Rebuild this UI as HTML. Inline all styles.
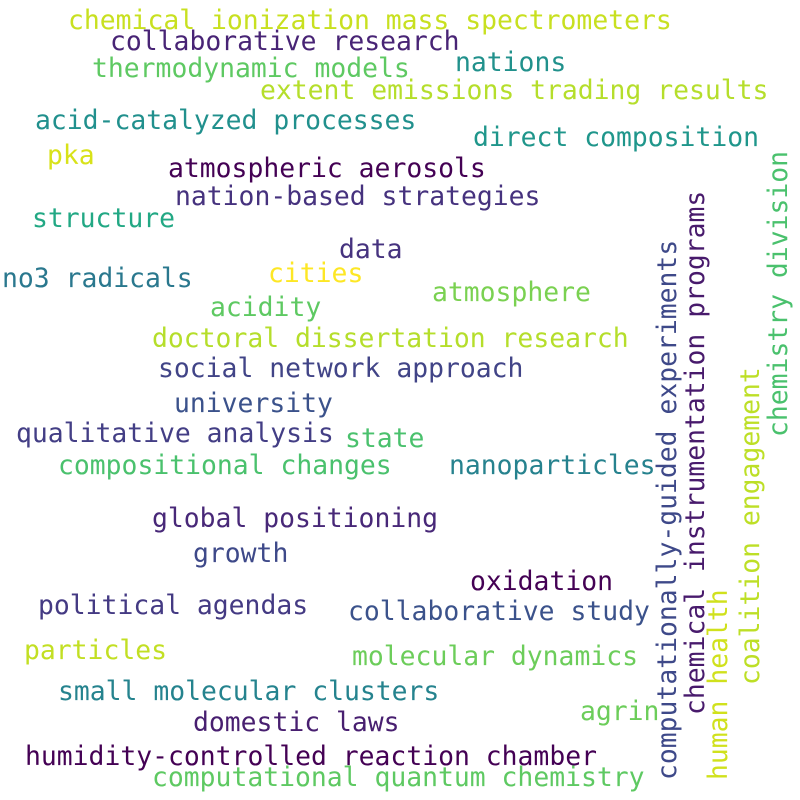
<!DOCTYPE html>
<html><head><meta charset="utf-8"><style>
html,body{margin:0;padding:0;background:#fff;}
svg{display:block;}
text{font-family:"DejaVu Sans Mono","Liberation Mono",monospace;font-size:26.4px;}
</style></head><body>
<svg width="800" height="800" viewBox="0 0 800 800">
<rect width="800" height="800" fill="#fff"/>
<text x="68" y="29" fill="#c8e020">chemical ionization mass spectrometers</text>
<text x="110" y="50" fill="#482475">collaborative research</text>
<text x="92" y="77" fill="#5ec962">thermodynamic models</text>
<text x="455" y="71" fill="#21918c">nations</text>
<text x="260" y="99" fill="#b5de2b">extent emissions trading results</text>
<text x="35" y="129" fill="#21908d">acid-catalyzed processes</text>
<text x="473" y="146" fill="#1f968b">direct composition</text>
<text x="47" y="164" fill="#d8e219">pka</text>
<text x="168" y="177" fill="#440154">atmospheric aerosols</text>
<text x="175" y="205" fill="#46327e">nation-based strategies</text>
<text x="32" y="227" fill="#22a884">structure</text>
<text x="339" y="258" fill="#46337f">data</text>
<text x="2" y="287" fill="#2a788e">no3 radicals</text>
<text x="268" y="282" fill="#fde725">cities</text>
<text x="432" y="301" fill="#7ad151">atmosphere</text>
<text x="210" y="316" fill="#5ec962">acidity</text>
<text x="152" y="347" fill="#b5de2b">doctoral dissertation research</text>
<text x="158" y="377" fill="#414487">social network approach</text>
<text x="174" y="412" fill="#3b528b">university</text>
<text x="16" y="442" fill="#433e85">qualitative analysis</text>
<text x="345" y="447" fill="#4ac16d">state</text>
<text x="58" y="474" fill="#4ac16d">compositional changes</text>
<text x="449" y="474" fill="#26828e">nanoparticles</text>
<text x="152" y="527" fill="#482878">global positioning</text>
<text x="193" y="562" fill="#3e4989">growth</text>
<text x="470" y="590" fill="#440154">oxidation</text>
<text x="38" y="614" fill="#443a83">political agendas</text>
<text x="348" y="620" fill="#3b528b">collaborative study</text>
<text x="24" y="659" fill="#c2df23">particles</text>
<text x="352" y="665" fill="#6ccd5a">molecular dynamics</text>
<text x="58" y="700" fill="#25838e">small molecular clusters</text>
<text x="580" y="720" fill="#6ccd5a">agrin</text>
<text x="193" y="731" fill="#481f70">domestic laws</text>
<text x="25" y="765" fill="#440154">humidity-controlled reaction chamber</text>
<text x="152" y="786" fill="#5ec962">computational quantum chemistry</text>
<text transform="translate(667,780) rotate(-90)" x="0" y="9" fill="#3e4989">computationally-guided experiments</text>
<text transform="translate(695,715) rotate(-90)" x="0" y="9" fill="#481a6c">chemical instrumentation programs</text>
<text transform="translate(718,780) rotate(-90)" x="0" y="9" fill="#d0e11c">human health</text>
<text transform="translate(750,685) rotate(-90)" x="0" y="9" fill="#bddf26">coalition engagement</text>
<text transform="translate(778,437) rotate(-90)" x="0" y="9" fill="#4ac16d">chemistry division</text>
</svg>
</body></html>
